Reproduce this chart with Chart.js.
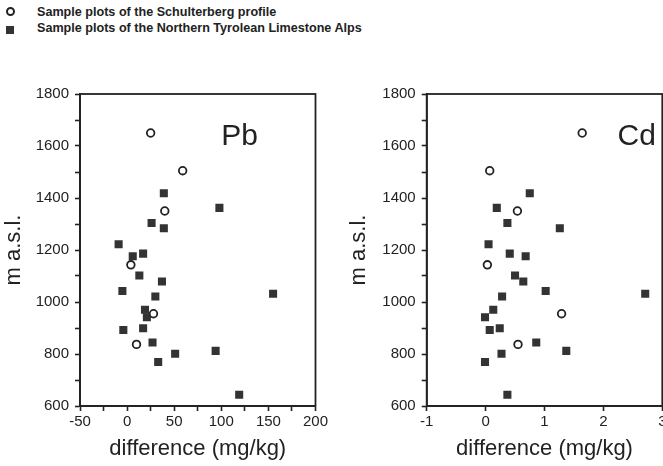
<!DOCTYPE html>
<html>
<head>
<meta charset="utf-8">
<script src="https://cdn.jsdelivr.net/npm/chart.js@4.4.0/dist/chart.umd.min.js"></script>
<style>
    body { margin: 0; width: 663px; height: 466px; overflow: hidden; background: #fff; position: relative;
           font-family: "Liberation Sans", Arial, sans-serif; color: #222; }
    canvas { position: absolute; top: 60px; }
    #pbChart { left: 0; }
    #cdChart { left: 330px; }
    .legend { position: absolute; left: 37px; font-size: 12.6px; font-weight: bold; line-height: 14px; white-space: nowrap; }
    .mk { position: absolute; left: 6px; box-sizing: border-box; }
    .mk.open { top: 7px; width: 9px; height: 9px; border: 2px solid #222; border-radius: 50%; }
    .mk.fill { top: 26px; width: 8px; height: 8px; background: #333; }
</style>
</head>
<body>
<div class="mk open"></div>
<div class="legend" style="top:5px">Sample plots of the Schulterberg profile</div>
<div class="mk fill"></div>
<div class="legend" style="top:21px">Sample plots of the Northern Tyrolean Limestone Alps</div>

<canvas id="pbChart" width="330" height="406"></canvas>
<canvas id="cdChart" width="345" height="406"></canvas>

<script>
// altitudes (m a.s.l.) shared by both panels
var openAltitude = [1650, 1505, 1350, 1143, 955, 837];
var filledAltitude = [1418, 1362, 1304, 1284, 1222, 1186, 1176, 1102, 1079, 1042, 1032,
                      1021, 970, 941, 899, 892, 844, 812, 801, 769, 643];

// differences (mg/kg)
var pbOpen = [25, 59, 40, 4, 28, 10];
var pbFilled = [39, 98, 26, 39, -9, 17, 6, 13, 37, -5, 155, 30, 19, 21, 17, -4, 27, 94, 51, 33, 119];
var cdOpen = [1.64, 0.07, 0.54, 0.03, 1.29, 0.55];
var cdFilled = [0.75, 0.19, 0.37, 1.26, 0.05, 0.41, 0.68, 0.50, 0.64, 1.02, 2.71,
                0.28, 0.13, -0.01, 0.24, 0.07, 0.86, 1.37, 0.27, -0.01, 0.37];

var seriesNames = ["Sample plot of the Schulterberg profile", "Sample plots of the Northern Tyrolean Limestone Alps"];
var altitudeTicks = [600, 800, 1000, 1200, 1400, 1600, 1800];

var ink = "#222";
var fontName = "'Liberation Sans', Arial, Helvetica, sans-serif";

function toPoints(xs, ys) {
    return xs.map((x, i) => ({ x: x, y: ys[i] }));
}

// box around the plot area + element name
var framePlugin = {
    id: "frame",
    afterDraw: function (chart, args, opts) {
        var a = chart.chartArea;
        var ctx = chart.ctx;
        ctx.save();
        ctx.strokeStyle = ink;
        ctx.lineWidth = 1.8;
        ctx.strokeRect(a.left, a.top, a.right - a.left, a.bottom - a.top);
        ctx.fillStyle = ink;
        ctx.font = "30px " + fontName;
        ctx.textBaseline = "alphabetic";
        ctx.fillText(opts.label, a.left + opts.labelPos * (a.right - a.left), a.top + 51);
        ctx.restore();
    }
};

function createPanel(id, openX, filledX, xOpts) {
    var ctx = document.getElementById(id).getContext("2d");
    return new Chart(ctx, {
        type: "scatter",
        data: {
            datasets: [{
                label: seriesNames[0],
                data: toPoints(openX, openAltitude),
                pointStyle: "circle",
                pointRadius: 3.8,
                borderWidth: 1.8,
                borderColor: ink,
                backgroundColor: "#fff"
            }, {
                label: seriesNames[1],
                data: toPoints(filledX, filledAltitude),
                pointStyle: "rect",
                pointRadius: 5.7,
                borderWidth: 0,
                borderColor: "#333",
                backgroundColor: "#333"
            }]
        },
        options: {
            responsive: false,
            animation: false,
            devicePixelRatio: 1,
            layout: { padding: { top: 34, right: xOpts.padRight, left: 0, bottom: 0 } },
            plugins: {
                legend: { display: false },
                tooltip: { enabled: false },
                frame: { label: xOpts.label, labelPos: xOpts.labelPos }
            },
            scales: {
                x: {
                    type: "linear",
                    min: xOpts.min,
                    max: xOpts.max,
                    afterFit: function (s) { s.height = 60; },
                    border: { color: ink, width: 1.8 },
                    grid: { drawOnChartArea: false, tickLength: 5, tickColor: ink, tickWidth: 1.6 },
                    ticks: {
                        stepSize: xOpts.step,
                        autoSkip: false,
                        maxRotation: 0,
                        padding: 2,
                        color: ink,
                        font: { family: fontName, size: 15 },
                        callback: xOpts.tickLabel
                    },
                    title: {
                        display: true,
                        text: "difference (mg/kg)",
                        color: ink,
                        font: { family: fontName, size: 22 },
                        padding: { top: 0, bottom: 4 }
                    }
                },
                y: {
                    type: "linear",
                    min: 600,
                    max: 1800,
                    afterFit: function (s) { s.width = xOpts.yWidth; },
                    border: { color: ink, width: 1.8 },
                    grid: { drawOnChartArea: false, tickLength: 5, tickColor: ink, tickWidth: 1.6 },
                    ticks: {
                        stepSize: 100,
                        autoSkip: false,
                        padding: 6,
                        color: ink,
                        font: { family: fontName, size: 15 },
                        callback: function (v) { return altitudeTicks.indexOf(v) >= 0 ? v : ""; }
                    },
                    title: {
                        display: true,
                        text: "m a.s.l.",
                        color: ink,
                        font: { family: fontName, size: 22 },
                        padding: { top: xOpts.yTitlePad, bottom: 0 }
                    }
                }
            }
        },
        plugins: [framePlugin]
    });
}

createPanel("pbChart", pbOpen, pbFilled, {
    min: -50, max: 200, step: 25,
    tickLabel: function (v) { return v % 50 === 0 ? v : ""; },
    yWidth: 80, yTitlePad: 1, padRight: 14.3,
    label: "Pb", labelPos: 0.60
});

createPanel("cdChart", cdOpen, cdFilled, {
    min: -1, max: 3, step: 1,
    tickLabel: function (v) { return v; },
    yWidth: 96.7, yTitlePad: 16, padRight: 12.7,
    label: "Cd", labelPos: 0.81
});
</script>
</body>
</html>
